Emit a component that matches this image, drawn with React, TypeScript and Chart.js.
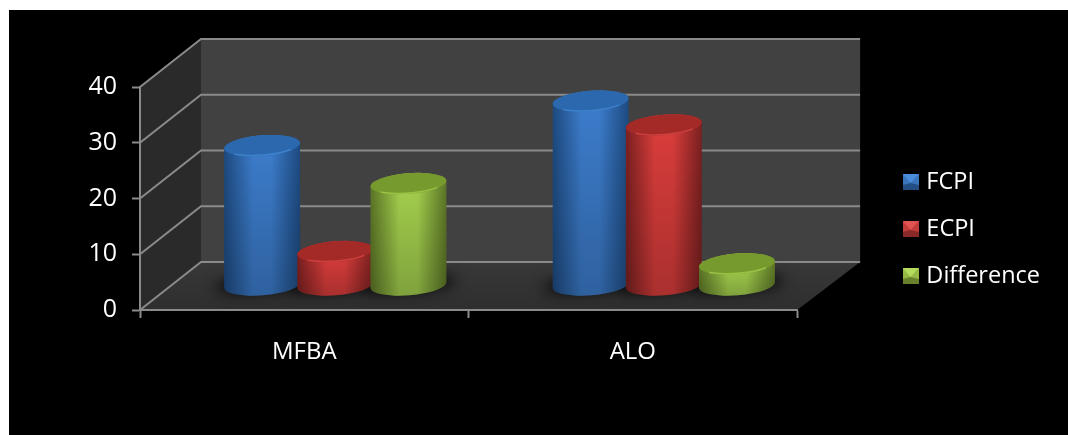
import React, { useEffect, useRef } from "react";
import { Chart, registerables } from "chart.js";

Chart.register(...registerables);

const categories = ["MFBA", "ALO"];
const fcpi = [25, 33];
const ecpi = [6, 28.7];
const difference = [18.2, 3.8];
const seriesNames = ["FCPI", "ECPI", "Difference"];
const FONT = '"Open Sans", sans-serif';

type Pal = { edge: string; mid: string; top: string; rim: string; iTop: string; iSide: string; iBot: string };
const palettes: Pal[] = [
  { edge: "#1d4a80", mid: "#3c7ccb", top: "#2b68ad", rim: "#4f97e6", iTop: "#4a8edb", iSide: "#3a74bb", iBot: "#234f85" },
  { edge: "#7a2020", mid: "#d93d3b", top: "#a42a28", rim: "#ef5350", iTop: "#e25452", iSide: "#c23c3a", iBot: "#8a2a28" },
  { edge: "#5c7526", mid: "#a3cf4d", top: "#779a2f", rim: "#b8e255", iTop: "#b5dc5c", iSide: "#94b945", iBot: "#66802c" },
];

const DEPTH_X = 61;
const DEPTH_Y = -48;
const BAR_DX = 31;
const BAR_DY = -25;
const TILT = (-4.5 * Math.PI) / 180;
const RY = 10.3;
const LINE = "#8a8a8a";

function makeIcon(p: Pal) {
  const c = document.createElement("canvas");
  c.width = 16;
  c.height = 16;
  const g = c.getContext("2d")!;
  const tri = (pts: number[][], col: string) => {
    g.fillStyle = col;
    g.beginPath();
    pts.forEach((q, i) => (i ? g.lineTo(q[0], q[1]) : g.moveTo(q[0], q[1])));
    g.closePath();
    g.fill();
  };
  tri([[0, 0], [16, 0], [16, 16], [0, 16]], p.iSide);
  tri([[0, 0], [16, 0], [8, 9]], p.iTop);
  tri([[0, 16], [16, 16], [16, 11], [8, 9], [0, 11]], p.iBot);
  return c;
}

const scene3d = {
  id: "scene3d",
  beforeDraw(chart: any) {
    const { ctx, chartArea: a, scales } = chart;
    const y = scales.y;
    const y0 = y.getPixelForValue(0);
    const yTop = y.getPixelForValue(40);
    ctx.save();
    ctx.fillStyle = "#414141";
    ctx.fillRect(a.left + DEPTH_X, yTop + DEPTH_Y, a.right - a.left + 2, y0 - yTop);
    ctx.fillStyle = "#2a2a2a";
    ctx.beginPath();
    ctx.moveTo(a.left, yTop);
    ctx.lineTo(a.left + DEPTH_X, yTop + DEPTH_Y);
    ctx.lineTo(a.left + DEPTH_X, y0 + DEPTH_Y);
    ctx.lineTo(a.left, y0);
    ctx.closePath();
    ctx.fill();
    const fg = ctx.createLinearGradient(0, y0 + DEPTH_Y, 0, y0);
    fg.addColorStop(0, "#383838");
    fg.addColorStop(1, "#2e2e2e");
    ctx.fillStyle = fg;
    ctx.beginPath();
    ctx.moveTo(a.left, y0);
    ctx.lineTo(a.left + DEPTH_X, y0 + DEPTH_Y);
    ctx.lineTo(a.right + DEPTH_X + 2, y0 + DEPTH_Y);
    ctx.lineTo(a.right, y0);
    ctx.closePath();
    ctx.fill();
    ctx.strokeStyle = LINE;
    ctx.lineWidth = 2;
    y.ticks.forEach((t: any) => {
      const p = y.getPixelForValue(t.value);
      ctx.beginPath();
      ctx.moveTo(a.left, p);
      ctx.lineTo(a.left + DEPTH_X, p + DEPTH_Y);
      ctx.lineTo(a.right + DEPTH_X + 2, p + DEPTH_Y);
      ctx.stroke();
    });
    ctx.restore();
  },
  afterDatasetsDraw(chart: any) {
    const { ctx, scales } = chart;
    const y0 = scales.y.getPixelForValue(0);
    const metas = [0, 1, 2].map((i) => chart.getDatasetMeta(i));
    ctx.save();
    ctx.translate(BAR_DX, BAR_DY);
    // soft floor shadow, cast from a shape held off the canvas
    const OFF = 3000;
    categories.forEach((_, c) => {
      metas.forEach((m) => {
        const el = m.data[c];
        ctx.save();
        ctx.shadowColor = "rgba(0,0,0,0.85)";
        ctx.shadowBlur = 14;
        ctx.shadowOffsetX = OFF;
        ctx.fillStyle = "#000";
        ctx.beginPath();
        ctx.ellipse(el.x - OFF, y0 - 1, el.width / 2 + 11, RY - 2, TILT, 0, Math.PI * 2);
        ctx.fill();
        ctx.restore();
      });
    });
    categories.forEach((_, c) => {
      metas.forEach((m, s) => {
        const el = m.data[c];
        const p = palettes[s];
        const rx = el.width / 2 + 1.5;
        const top = el.y;
        const dx = rx * Math.cos(TILT);
        const side = ctx.createLinearGradient(el.x - dx, 0, el.x + dx, 0);
        side.addColorStop(0, p.edge);
        side.addColorStop(0.38, p.mid);
        side.addColorStop(0.62, p.mid);
        side.addColorStop(1, p.edge);
        ctx.fillStyle = side;
        ctx.beginPath();
        ctx.ellipse(el.x, y0, rx, RY, TILT, 0, Math.PI, false);
        ctx.ellipse(el.x, top, rx, RY, TILT, Math.PI, Math.PI * 2, false);
        ctx.closePath();
        ctx.fill();
        const shade = ctx.createLinearGradient(0, top, 0, y0 + RY);
        shade.addColorStop(0, "rgba(0,0,0,0)");
        shade.addColorStop(1, "rgba(0,0,0,0.22)");
        ctx.fillStyle = shade;
        ctx.fill();
        ctx.fillStyle = p.top;
        ctx.beginPath();
        ctx.ellipse(el.x, top, rx, RY, TILT, 0, Math.PI * 2);
        ctx.fill();
        ctx.strokeStyle = p.rim;
        ctx.globalAlpha = 0.55;
        ctx.lineWidth = 1.5;
        ctx.beginPath();
        ctx.ellipse(el.x, top, rx - 0.8, RY - 0.8, TILT, 0.7, Math.PI - 0.7, false);
        ctx.stroke();
        ctx.globalAlpha = 1;
      });
    });
    ctx.restore();
  },
};

export default function App() {
  const ref = useRef<HTMLCanvasElement>(null);
  useEffect(() => {
    const icons = palettes.map(makeIcon);
    const chart = new Chart(ref.current!, {
      type: "bar",
      data: {
        labels: categories,
        datasets: [
          { label: seriesNames[0], data: fcpi },
          { label: seriesNames[1], data: ecpi },
          { label: seriesNames[2], data: difference },
        ].map((d) => ({
          ...d,
          backgroundColor: "rgba(0,0,0,0)",
          barPercentage: 1,
          categoryPercentage: 0.668,
        })),
      },
      options: {
        responsive: false,
        animation: false,
        layout: { padding: { top: 77, bottom: 64, right: 18, left: 0 } },
        scales: {
          x: {
            grid: { drawOnChartArea: false, color: LINE, tickLength: 8, tickWidth: 2, offset: true },
            border: { color: LINE, width: 2 },
            ticks: { color: "#ffffff", font: { family: FONT, size: 24 }, padding: 20, maxRotation: 0 },
            afterFit: (s: any) => {
              s.height = 61;
            },
          },
          y: {
            min: 0,
            max: 40,
            grid: { drawOnChartArea: false, color: LINE, tickLength: 8, tickWidth: 2 },
            border: { color: LINE, width: 2 },
            ticks: { stepSize: 10, color: "#ffffff", font: { family: FONT, size: 25 }, padding: 15 },
            afterFit: (s: any) => {
              s.width = 131;
            },
          },
          depth: {
            position: "right",
            display: true,
            grid: { display: false },
            border: { display: false },
            ticks: { display: false },
            afterFit: (s: any) => {
              s.width = 86;
            },
          },
        },
        plugins: {
          tooltip: { enabled: false },
          legend: {
            position: "right",
            labels: {
              usePointStyle: true,
              boxWidth: 8,
              boxHeight: 8,
              padding: 23.5,
              color: "#ffffff",
              font: { family: FONT, size: 23.5 },
              generateLabels: (c: any) =>
                c.data.datasets.map((d: any, i: number) => ({
                  text: d.label,
                  datasetIndex: i,
                  fontColor: "#ffffff",
                  fillStyle: palettes[i].mid,
                  strokeStyle: palettes[i].mid,
                  lineWidth: 0,
                  pointStyle: icons[i],
                })),
            },
          },
        },
      } as any,
      plugins: [scene3d],
    });
    return () => chart.destroy();
  }, []);
  return (
    <div style={{ position: "fixed", left: 0, top: 0, width: 1068, height: 435, background: "#fff", overflow: "hidden" }}>
      <canvas
        ref={ref}
        width={1059}
        height={425}
        style={{ position: "absolute", left: 9, top: 10, width: 1059, height: 425, background: "#000" }}
      />
    </div>
  );
}
